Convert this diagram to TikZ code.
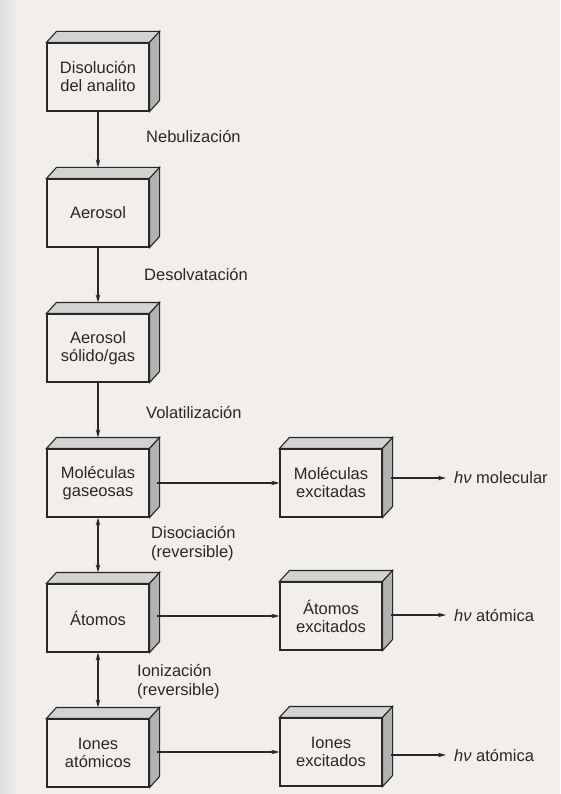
\documentclass[tikz,border=0pt]{standalone}
\usepackage{fontspec}
\setmainfont{Liberation Sans}
\usetikzlibrary{arrows.meta,positioning,calc}
\definecolor{paper}{HTML}{F2EFEA}
\definecolor{ink}{HTML}{2A2826}
\tikzset{
  stage/.style={draw=ink, line width=1.1pt, fill=paper, minimum width=102pt,
    minimum height=68pt, align=center, inner sep=2pt, text=ink,
    font=\fontsize{16.5}{18}\selectfont},
  topface/.style={draw=ink, line width=1.1pt, fill=gray!35},
  sideface/.style={draw=ink, line width=1.1pt, fill=gray!60},
  flow/.style={draw=ink, line width=1.1pt, -{Stealth[length=8pt,width=4.5pt]}},
  twoway/.style={draw=ink, line width=1.1pt,
    {Stealth[length=8pt,width=4.5pt]}-{Stealth[length=8pt,width=4.5pt]}},
  lbl/.style={font=\fontsize{16.5}{19}\selectfont, align=left, inner sep=0pt, text=ink},
}
% top and right faces of a box
\newcommand{\boxfaces}[1]{%
  \filldraw[topface] (#1.north west) -- ++(10,-11) -- ([shift={(10,-11)}]#1.north east)
    -- (#1.north east) -- cycle;
  \filldraw[sideface] (#1.north east) -- ++(10,-11) -- ([shift={(10,-11)}]#1.south east)
    -- (#1.south east) -- cycle;}

\begin{document}
\begin{tikzpicture}[x=1pt,y=-1pt]

\fill[paper] (0,0) rectangle (560,794);
\useasboundingbox (0,0) rectangle (560,794);
\shade[left color=gray!25, right color=paper] (0,0) rectangle (18,794);

% ----- main column -----
\node[stage] (dis) at (98,77) {Disolución\\del analito};
\node[stage] (aer) at (98,213) {Aerosol};
\node[stage] (sol) at (98,348) {Aerosol\\sólido/gas};
\node[stage] (mol) at (98,483) {Moléculas\\gaseosas};
\node[stage] (ato) at (98,618) {Átomos};
\node[stage] (ion) at (98,753) {Iones\\atómicos};

% ----- excited species -----
\node[stage] (molx) at (331,483) {Moléculas\\excitadas};
\node[stage] (atox) at (331,616) {Átomos\\excitados};
\node[stage] (ionx) at (331,752) {Iones\\excitados};

\foreach \n in {dis,aer,sol,mol,ato,ion,molx,atox,ionx} {\boxfaces{\n}}

% ----- emission -----
\node[lbl, anchor=west] (hvm) at (454,478) {{\itshape hν} molecular};
\node[lbl, anchor=west] (hva) at (454,615) {{\itshape hν} atómica};
\node[lbl, anchor=west] (hvi) at (454,755) {{\itshape hν} atómica};

% ----- process labels -----
\node[lbl, anchor=west] (neb) at (146,137) {Nebulización};
\node[lbl, anchor=west] (desol) at (144,275) {Desolvatación};
\node[lbl, anchor=west] (vol) at (146,413) {Volatilización};
\node[lbl, anchor=west] (diso) at (151,544) {Disociación\\(reversible)};
\node[lbl, anchor=west] (ioniz) at (137,682) {Ionización\\(reversible)};

% ----- flows down the column -----
\draw[flow] (dis.south) -- ([yshift=11pt]aer.north);
\draw[flow] (aer.south) -- ([yshift=11pt]sol.north);
\draw[flow] (sol.south) -- ([yshift=11pt]mol.north);
\draw[twoway] (mol.south) -- ([yshift=11pt]ato.north);
\draw[twoway] (ato.south) -- ([yshift=11pt]ion.north);

% ----- flows to excited species -----
\draw[flow] ([xshift=7pt]mol.east) -- (molx.west);
\draw[flow] ([xshift=7pt]ato.east |- atox.west) -- (atox.west);
\draw[flow] ([xshift=7pt]ion.east |- ionx.west) -- (ionx.west);

\draw[flow, shorten >=8pt] ([xshift=8pt]molx.east |- hvm.west) -- (hvm.west);
\draw[flow, shorten >=8pt] ([xshift=8pt]atox.east |- hva.west) -- (hva.west);
\draw[flow, shorten >=8pt] ([xshift=8pt]ionx.east |- hvi.west) -- (hvi.west);

\end{tikzpicture}
\end{document}
